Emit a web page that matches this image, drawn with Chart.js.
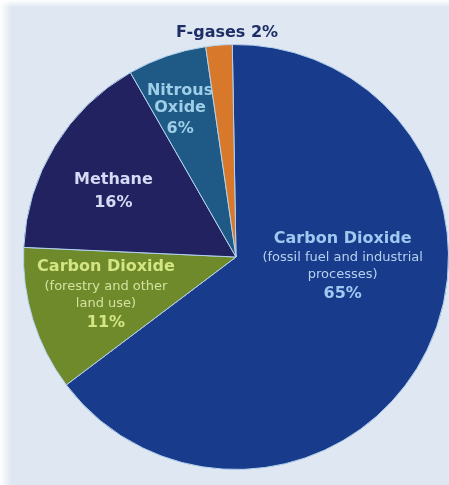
<!DOCTYPE html>
<html lang="en">
<head>
    <meta charset="UTF-8">
    <title>Greenhouse Gas Emissions</title>
    <script src="https://cdn.jsdelivr.net/npm/chart.js"></script>
    <style>
        html, body { margin: 0; padding: 0; }
        body {
            width: 449px;
            height: 485px;
            overflow: hidden;
            background:
                linear-gradient(to bottom, rgba(255,255,255,1) 0, rgba(255,255,255,0) 7px),
                linear-gradient(to right, #ffffff 0, #dfe8f2 11px);
        }
        canvas { display: block; }
    </style>
</head>
<body>
    <canvas id="pie" width="449" height="485"></canvas>

    <script>
        // Emission shares by gas, in percent
        var categories = [
            'Carbon Dioxide (fossil fuel and industrial processes)',
            'Carbon Dioxide (forestry and other land use)',
            'Methane',
            'Nitrous Oxide',
            'F-gases'
        ];
        var shares = [65, 11, 16, 6, 2];

        // text drawn on each slice (the percentage is added from shares)
        var labelLines = [
            ['Carbon Dioxide', '(fossil fuel and industrial', 'processes)'],
            ['Carbon Dioxide', '(forestry and other', 'land use)'],
            ['Methane'],
            ['Nitrous', 'Oxide'],
            []
        ];

        var sliceColors = ['#193b8c', '#6e8a2a', '#222260', '#1e5a85', '#d7782a'];

        // where each label block sits: fraction of radius from centre, line offsets in px
        var labelLayout = [
            { fx: 0.502, fy: -0.085, dy: [0, 19, 36, 55], color: '#9fc9f0', sub: '#b4d2ee' },
            { fx: -0.612, fy: 0.047, dy: [0, 20, 37, 56], color: '#d4e584', sub: '#d4e2a0' },
            { fx: -0.577, fy: -0.362, dy: [0, 23], color: '#d6daf4', sub: '#d6daf4' },
            { fx: -0.263, fy: -0.784, dy: [0, 17, 38], color: '#9fcfe8', sub: '#9fcfe8' },
            { fx: -0.042, fy: -1.056, dy: [0], color: '#1f2d66', sub: '#1f2d66', inline: true }
        ];

        var boldFont = 'bold 16px "DejaVu Sans", Verdana, sans-serif';
        var smallFont = '13px "DejaVu Sans", Verdana, sans-serif';

        var sliceLabels = {
            id: 'sliceLabels',
            afterDatasetsDraw: function (chart) {
                var ctx = chart.ctx;
                var arcs = chart.getDatasetMeta(0).data;
                ctx.save();
                ctx.textAlign = 'center';
                ctx.textBaseline = 'middle';
                arcs.forEach(function (arc, i) {
                    var p = arc.getProps(['x', 'y', 'outerRadius'], true);
                    var lay = labelLayout[i];
                    var cx = p.x + lay.fx * p.outerRadius;
                    var cy = p.y + lay.fy * p.outerRadius;
                    var value = shares[i] + '%';
                    // the two carbon dioxide labels carry a smaller description
                    var lines = labelLines[i].map(function (t, k) {
                        return { text: t, small: i < 2 && k > 0 };
                    });
                    if (lay.inline) {
                        lines.push({ text: 'F-gases ' + value, small: false });
                    } else {
                        lines.push({ text: value, small: false });
                    }
                    lines.forEach(function (ln, k) {
                        ctx.font = ln.small ? smallFont : boldFont;
                        ctx.fillStyle = ln.small ? lay.sub : lay.color;
                        ctx.fillText(ln.text, cx, cy + lay.dy[k]);
                    });
                });
                ctx.restore();
            }
        };

        new Chart(document.getElementById('pie').getContext('2d'), {
            type: 'pie',
            data: {
                labels: categories,
                datasets: [{
                    data: shares,
                    backgroundColor: sliceColors,
                    borderColor: '#b3d2ee',
                    borderWidth: 1
                }]
            },
            options: {
                responsive: false,
                animation: false,
                devicePixelRatio: 1,
                rotation: -1,
                layout: { padding: { left: 23, right: 0, top: 44, bottom: 15 } },
                plugins: {
                    legend: { display: false },
                    tooltip: { enabled: false }
                }
            },
            plugins: [sliceLabels]
        });
    </script>
</body>
</html>
